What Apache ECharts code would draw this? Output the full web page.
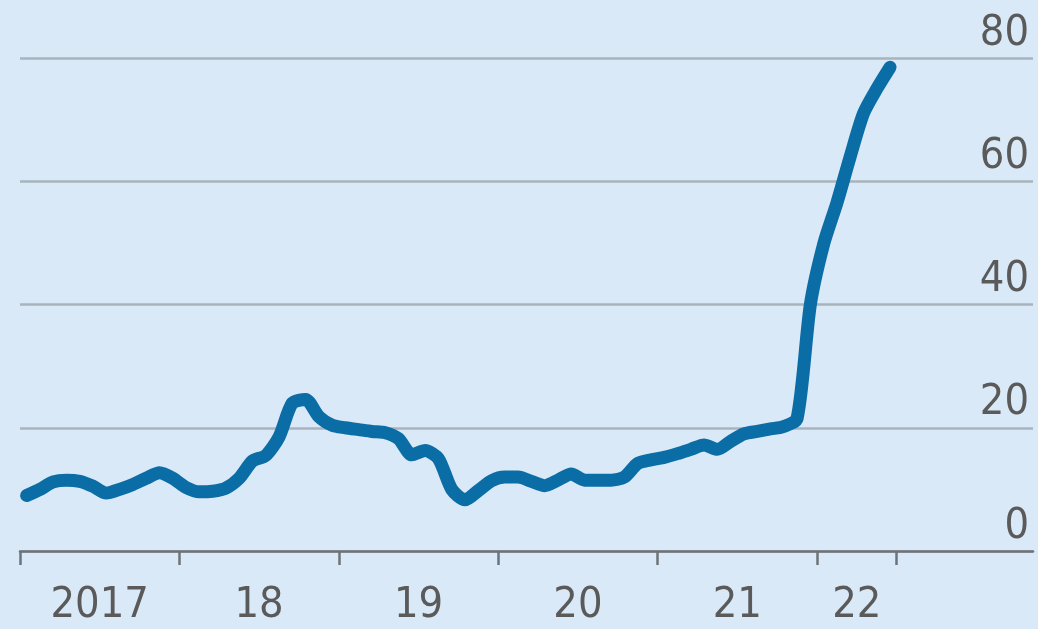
<!DOCTYPE html>
<html>
<head>
<meta charset="utf-8">
<script src="https://cdn.jsdelivr.net/npm/echarts@6/dist/echarts.min.js"></script>
<style>
html,body{margin:0;padding:0;background:#dae9f7;}
#chart{width:1038px;height:629px;}
</style>
</head>
<body>
<div id="chart"></div>
<script>
// Monthly values, Jan 2017 .. Jun 2022
const startYear = 2017;
const values = [
  9.0, 10.0, 11.2, 11.5, 11.3, 10.5, 9.4, 10.0, 10.8, 11.8, 12.7, 11.8,   // 2017
  10.3, 9.6, 9.7, 10.2, 11.8, 14.6, 15.5, 18.5, 24.0, 24.6, 21.8, 20.4,  // 2018
  20.0, 19.7, 19.4, 19.2, 18.2, 15.6, 16.3, 15.0, 10.0, 8.3, 9.8, 11.4,  // 2019
  12.0, 12.0, 11.3, 10.6, 11.5, 12.5, 11.5, 11.5, 11.5, 12.0, 14.2, 14.8, // 2020
  15.2, 15.8, 16.5, 17.2, 16.5, 17.8, 19.0, 19.4, 19.8, 20.2, 21.5, 40.0, // 2021
  49.8, 56.5, 64.0, 71.0, 75.0, 78.5                                     // 2022
];
const tickYears = [2017, 2018, 2019, 2020, 2021, 2022, 2022.5];
const labelPositions = [2017.5, 2018.5, 2019.5, 2020.5, 2021.5, 2022.25];
const xLabels = ['2017', '18', '19', '20', '21', '22'];
const yTicks = [0, 20, 40, 60, 80];

const seriesData = values.map((v, i) => [startYear + (i + 0.5) / 12, v]);

const font = "'Liberation Sans Narrow', 'DejaVu Sans Condensed', sans-serif";
const chart = echarts.init(document.getElementById('chart'), null, {renderer: 'canvas'});
chart.setOption({
  backgroundColor: '#dae9f7',
  animation: false,
  grid: {left: 20, right: 5, top: 58, bottom: 78, containLabel: false},
  xAxis: {
    type: 'value',
    min: 2017,
    max: 2023.355,
    axisLine: {show: true, lineStyle: {color: '#6d737a', width: 2.5}},
    axisTick: {show: true, customValues: tickYears, length: 14, lineStyle: {color: '#6d737a', width: 2.5}},
    axisLabel: {
      show: true,
      customValues: labelPositions,
      formatter: (v) => {
        const idx = labelPositions.findIndex(p => Math.abs(p - v) < 1e-6);
        return idx >= 0 ? xLabels[idx] : '';
      },
      color: '#5a5a5a',
      fontFamily: font,
      fontSize: 43,
      margin: 33
    },
    splitLine: {show: false}
  },
  yAxis: {
    type: 'value',
    position: 'right',
    min: 0,
    max: 80,
    interval: 20,
    axisLine: {show: false},
    axisTick: {show: false},
    axisLabel: {
      inside: true,
      margin: 4,
      verticalAlign: 'bottom',
      padding: [0, 0, 3, 0],
      color: '#5a5a5a',
      fontFamily: font,
      fontSize: 43,
      formatter: (v) => yTicks.includes(v) ? String(v) : ''
    },
    splitLine: {show: true, lineStyle: {color: '#a9b3bd', width: 2.5}}
  },
  series: [{
    type: 'line',
    data: seriesData,
    showSymbol: false,
    smooth: 0.25,
    lineStyle: {color: '#0b6da6', width: 13, cap: 'round', join: 'round'}
  }]
});
</script>
</body>
</html>
